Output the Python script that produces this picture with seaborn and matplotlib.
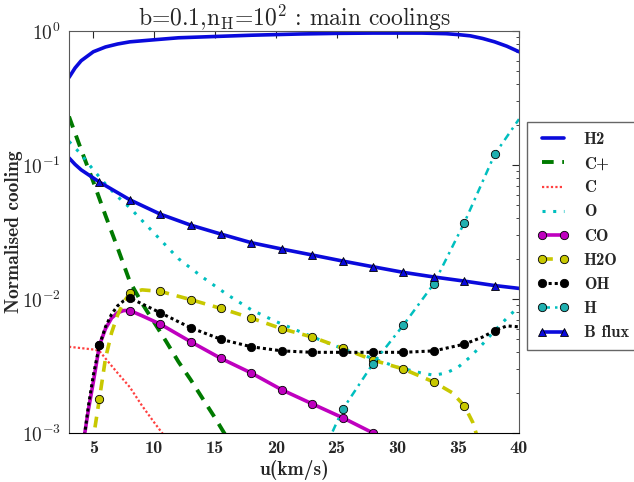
import numpy as np
import pandas as pd
import matplotlib
matplotlib.use("Agg")
import matplotlib.pyplot as plt
import seaborn as sns

# ---------------- data ----------------
u_H2 = [3, 3.5, 4, 5, 6, 7, 8, 10, 12, 15, 18, 20, 22, 25, 28, 30, 32, 34, 35, 36, 37, 38, 39, 40]
v_H2 = [0.45, 0.53, 0.60, 0.70, 0.76, 0.80, 0.83, 0.86, 0.89, 0.91, 0.93, 0.94, 0.95, 0.96,
        0.965, 0.965, 0.965, 0.955, 0.94, 0.92, 0.88, 0.83, 0.77, 0.70]

u_Cp = [3, 4, 5, 6, 7, 8, 9, 10, 11, 12, 13, 14, 15, 16]
v_Cp = [0.23, 0.13, 0.075, 0.042, 0.024, 0.0135, 0.0093, 0.0067, 0.0048, 0.0034, 0.0025,
        0.0018, 0.0013, 0.00092]

u_C = [3, 4, 5, 5.5, 6, 7, 8, 9, 10, 11]
v_C = [0.0044, 0.0043, 0.0042, 0.0041, 0.0036, 0.0028, 0.0022, 0.0016, 0.0012, 0.00091]

u_O = [3, 4, 5, 6, 7, 8, 10, 12, 14, 16, 18, 20, 22, 24, 26, 28, 30, 32, 33, 34, 35, 36, 37, 38, 39, 40]
v_O = [0.15, 0.12, 0.092, 0.072, 0.058, 0.048, 0.031, 0.020, 0.0145, 0.0108, 0.0083, 0.0068,
       0.0057, 0.0048, 0.0041, 0.0036, 0.0031, 0.0028, 0.0027, 0.0028, 0.0031, 0.0037, 0.0046,
       0.0058, 0.0072, 0.0088]

u_CO = [4.0, 4.3, 4.6, 5, 5.5, 6, 6.5, 7, 7.5, 8, 9, 10.5, 13, 15.5, 18, 20.5, 23, 25.5, 28, 28.5]
v_CO = [0.0007, 0.001, 0.0015, 0.0024, 0.0045, 0.0060, 0.0072, 0.0079, 0.0082, 0.0082, 0.0075,
        0.0065, 0.0048, 0.0036, 0.0028, 0.0021, 0.00165, 0.0013, 0.0010, 0.00095]

u_H2O = [4.9, 5.2, 5.5, 6, 6.5, 7, 7.5, 8, 9, 10.5, 13, 15.5, 18, 20.5, 23, 25.5, 28, 30.5, 33,
         34.5, 35.5, 36.2, 36.8]
v_H2O = [0.0008, 0.0012, 0.0018, 0.0036, 0.0056, 0.0076, 0.0095, 0.011, 0.0117, 0.0114, 0.0099,
         0.0085, 0.0072, 0.0060, 0.0052, 0.0043, 0.0035, 0.0030, 0.0024, 0.0020, 0.0016, 0.0012,
         0.0008]

u_OH = [4.0, 4.3, 4.6, 5, 5.5, 6, 6.5, 7, 7.5, 8, 9, 10.5, 13, 15.5, 18, 20.5, 23, 25.5, 28, 30.5,
        33, 35.5, 37, 38, 39, 40]
v_OH = [0.0007, 0.001, 0.0016, 0.0027, 0.0045, 0.0062, 0.0077, 0.0089, 0.0097, 0.0102, 0.0092,
        0.0079, 0.0061, 0.0050, 0.0044, 0.0041, 0.0040, 0.0040, 0.0040, 0.0040, 0.0041, 0.0046,
        0.0052, 0.0058, 0.0063, 0.0062]

u_H = [24.0, 25.5, 28, 30.5, 33, 35.5, 38, 40]
v_H = [0.00075, 0.0015, 0.0033, 0.0064, 0.013, 0.037, 0.12, 0.22]

u_B = [3, 3.5, 4, 5.5, 8, 10.5, 13, 15.5, 18, 20.5, 23, 25.5, 28, 30.5, 33, 35.5, 38, 40]
v_B = [0.113, 0.101, 0.092, 0.0746, 0.055, 0.043, 0.0356, 0.0305, 0.0263, 0.0236, 0.0213,
       0.0192, 0.0174, 0.0158, 0.0146, 0.0136, 0.0126, 0.0120]

marker_u = [5.5, 8, 10.5, 13, 15.5, 18, 20.5, 23, 25.5, 28, 30.5, 33, 35.5, 38]

x_ticks = [5, 10, 15, 20, 25, 30, 35, 40]
x_ticklabels = ["5", "10", "15", "20", "25", "30", "35", "40"]
y_ticks = [1e-3, 1e-2, 1e-1, 1e0]
y_ticklabels = [r"$\mathbf{10^{-3}}$", r"$\mathbf{10^{-2}}$", r"$\mathbf{10^{-1}}$", r"$\mathbf{10^{0}}$"]

title = r"b=0.1,n$_{\rm H}$=10$^2$ : main coolings"
xlabel = "u(km/s)"
ylabel = "Normalised cooling"

# ---------------- plotting ----------------
sns.set_style("white")
plt.rcParams["mathtext.fontset"] = "cm"
plt.rcParams["axes.unicode_minus"] = False

fig = plt.figure(figsize=(6.34, 4.82), dpi=100)
ax = fig.add_axes([69 / 634, 1 - 433 / 482, 450 / 634, 402 / 482])


def draw(u, v, label, color, ls, lw, marker=None, mfc=None, ms=6):
    u = np.asarray(u, float)
    df = pd.DataFrame({"u": u, "v": v})
    kw = dict(color=color, linestyle=ls, linewidth=lw, label=label)
    if marker is not None:
        mask = np.isin(np.round(u, 2), marker_u)
        kw.update(marker=marker, markevery=list(mask), markersize=ms,
                  markerfacecolor=mfc if mfc else color, markeredgecolor="k",
                  markeredgewidth=0.6)
    sns.lineplot(data=df, x="u", y="v", ax=ax, estimator=None, sort=False, **kw)


draw(u_H2, v_H2, "H2", "#0a0adc", "-", 2.6)
draw(u_Cp, v_Cp, "C+", "#007a00", (0, (3, 2.2)), 2.8)
draw(u_C, v_C, "C", "#ff4040", (0, (1, 1)), 1.6)
draw(u_O, v_O, "O", "#00bfbf", (0, (1, 2.5)), 2.2)
draw(u_CO, v_CO, "CO", "#bf00bf", "-", 2.6, marker="o")
draw(u_H2O, v_H2O, "H2O", "#c8c800", (0, (3, 2.2)), 2.6, marker="o")
draw(u_OH, v_OH, "OH", "k", (0, (1, 1)), 2.2, marker="o")
draw(u_H, v_H, "H", "#00bfbf", (0, (3, 2, 1, 2)), 1.8, marker="o", mfc="#20b0b0")
draw(u_B, v_B, "B flux", "#0a0adc", "-", 2.6, marker="^")

ax.set_yscale("log")
ax.set_xlim(3, 40)
ax.set_ylim(1e-3, 1e0)

ax.set_xticks(x_ticks)
ax.set_xticklabels(x_ticklabels, fontfamily="cmb10", fontsize=13)
ax.set_yticks(y_ticks)
ax.set_yticklabels(y_ticklabels, fontsize=14)
ax.tick_params(which="both", direction="in", top=True, right=True, pad=6)
ax.tick_params(which="major", length=5, width=0.8)
ax.tick_params(which="minor", length=2.5, width=0.6)
ax.minorticks_on()
ax.xaxis.set_minor_locator(matplotlib.ticker.NullLocator())

for s in ["left", "top", "right"]:
    ax.spines[s].set_color("0.35")
ax.spines["bottom"].set_color("k")

ax.set_xlabel(xlabel, fontfamily="cmb10", fontsize=14, labelpad=3)
ax.set_ylabel(ylabel, fontfamily="cmb10", fontsize=14)
ax.yaxis.set_label_coords(-(69 - 23) / 450, 0.5)
ax.set_title(title, fontfamily="cmr10", fontsize=17, pad=4)

leg = ax.legend(loc="upper left", bbox_to_anchor=(527 / 634, 1 - 122 / 482),
                bbox_transform=fig.transFigure, prop={"family": "cmb10", "size": 12},
                numpoints=2, handlelength=1.9, handletextpad=0.9, labelspacing=0.55,
                borderpad=0.6, fancybox=False, framealpha=1, edgecolor="0.4",
                borderaxespad=0)
leg.get_frame().set_linewidth(1.0)

fig.savefig("out.png", dpi=100)
